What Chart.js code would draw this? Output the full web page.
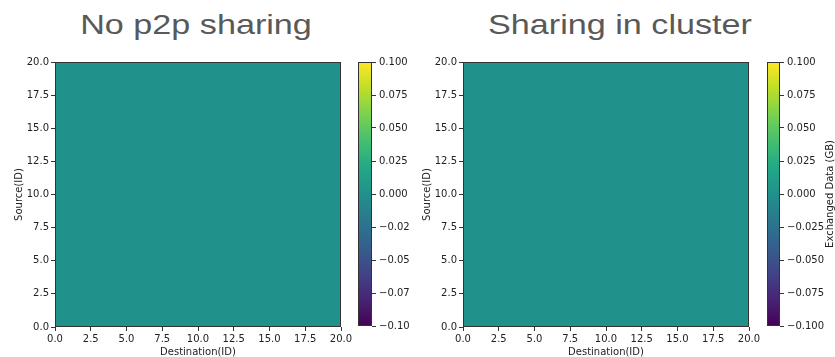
<!DOCTYPE html>
<html>
<head>
<meta charset="utf-8">
<script src="https://cdn.jsdelivr.net/npm/chart.js@4"></script>
<style>
  html, body { margin: 0; padding: 0; background: #fff; width: 835px; height: 357px; overflow: hidden; }
  canvas { position: absolute; }
  .title {
    position: absolute; top: 11px;
    font-family: "Liberation Sans", Arial, sans-serif; font-size: 28px; line-height: 28px;
    color: #595959; white-space: nowrap;
    transform: translateX(-50%) scaleX(1.22); transform-origin: center;
  }
</style>
</head>
<body>
<div class="title" id="t0" style="left:196px"></div>
<div class="title" id="t1" style="left:620px"></div>
<canvas id="heat0" width="365" height="307" style="left:0;top:50px"></canvas>
<canvas id="bar0" width="75" height="307" style="left:350px;top:50px"></canvas>
<canvas id="heat1" width="375" height="307" style="left:400px;top:50px"></canvas>
<canvas id="bar1" width="75" height="307" style="left:760px;top:50px"></canvas>
<script>
// Panel titles and axis labels
const panelTitles = ['No p2p sharing', 'Sharing in cluster'];
const xAxisTitle = 'Destination(ID)';
const yAxisTitle = 'Source(ID)';
const colorbarTitle = 'Exchanged Data (GB)';

// Axis ticks (node IDs)
const idTickValues = [0, 2.5, 5, 7.5, 10, 12.5, 15, 17.5, 20];
const idTickLabels = ['0.0', '2.5', '5.0', '7.5', '10.0', '12.5', '15.0', '17.5', '20.0'];

// Colour scale range and colourbar ticks
const colorRange = [-0.1, 0.1];
const cbTickValues = [-0.1, -0.075, -0.05, -0.025, 0, 0.025, 0.05, 0.075, 0.1];
const cbTickLabelsLeft = ['\u22120.10', '\u22120.07', '\u22120.05', '\u22120.02', '0.000', '0.025', '0.050', '0.075', '0.100'];
const cbTickLabelsRight = ['\u22120.100', '\u22120.075', '\u22120.050', '\u22120.025', '0.000', '0.025', '0.050', '0.075', '0.100'];

// Exchanged data (GB), rows = source ID, columns = destination ID
const noSharing = [
  [0,0,0,0,0,0,0,0,0,0,0,0,0,0,0,0,0,0,0,0],
  [0,0,0,0,0,0,0,0,0,0,0,0,0,0,0,0,0,0,0,0],
  [0,0,0,0,0,0,0,0,0,0,0,0,0,0,0,0,0,0,0,0],
  [0,0,0,0,0,0,0,0,0,0,0,0,0,0,0,0,0,0,0,0],
  [0,0,0,0,0,0,0,0,0,0,0,0,0,0,0,0,0,0,0,0],
  [0,0,0,0,0,0,0,0,0,0,0,0,0,0,0,0,0,0,0,0],
  [0,0,0,0,0,0,0,0,0,0,0,0,0,0,0,0,0,0,0,0],
  [0,0,0,0,0,0,0,0,0,0,0,0,0,0,0,0,0,0,0,0],
  [0,0,0,0,0,0,0,0,0,0,0,0,0,0,0,0,0,0,0,0],
  [0,0,0,0,0,0,0,0,0,0,0,0,0,0,0,0,0,0,0,0],
  [0,0,0,0,0,0,0,0,0,0,0,0,0,0,0,0,0,0,0,0],
  [0,0,0,0,0,0,0,0,0,0,0,0,0,0,0,0,0,0,0,0],
  [0,0,0,0,0,0,0,0,0,0,0,0,0,0,0,0,0,0,0,0],
  [0,0,0,0,0,0,0,0,0,0,0,0,0,0,0,0,0,0,0,0],
  [0,0,0,0,0,0,0,0,0,0,0,0,0,0,0,0,0,0,0,0],
  [0,0,0,0,0,0,0,0,0,0,0,0,0,0,0,0,0,0,0,0],
  [0,0,0,0,0,0,0,0,0,0,0,0,0,0,0,0,0,0,0,0],
  [0,0,0,0,0,0,0,0,0,0,0,0,0,0,0,0,0,0,0,0],
  [0,0,0,0,0,0,0,0,0,0,0,0,0,0,0,0,0,0,0,0],
  [0,0,0,0,0,0,0,0,0,0,0,0,0,0,0,0,0,0,0,0]
];
const clusterSharing = [
  [0,0,0,0,0,0,0,0,0,0,0,0,0,0,0,0,0,0,0,0],
  [0,0,0,0,0,0,0,0,0,0,0,0,0,0,0,0,0,0,0,0],
  [0,0,0,0,0,0,0,0,0,0,0,0,0,0,0,0,0,0,0,0],
  [0,0,0,0,0,0,0,0,0,0,0,0,0,0,0,0,0,0,0,0],
  [0,0,0,0,0,0,0,0,0,0,0,0,0,0,0,0,0,0,0,0],
  [0,0,0,0,0,0,0,0,0,0,0,0,0,0,0,0,0,0,0,0],
  [0,0,0,0,0,0,0,0,0,0,0,0,0,0,0,0,0,0,0,0],
  [0,0,0,0,0,0,0,0,0,0,0,0,0,0,0,0,0,0,0,0],
  [0,0,0,0,0,0,0,0,0,0,0,0,0,0,0,0,0,0,0,0],
  [0,0,0,0,0,0,0,0,0,0,0,0,0,0,0,0,0,0,0,0],
  [0,0,0,0,0,0,0,0,0,0,0,0,0,0,0,0,0,0,0,0],
  [0,0,0,0,0,0,0,0,0,0,0,0,0,0,0,0,0,0,0,0],
  [0,0,0,0,0,0,0,0,0,0,0,0,0,0,0,0,0,0,0,0],
  [0,0,0,0,0,0,0,0,0,0,0,0,0,0,0,0,0,0,0,0],
  [0,0,0,0,0,0,0,0,0,0,0,0,0,0,0,0,0,0,0,0],
  [0,0,0,0,0,0,0,0,0,0,0,0,0,0,0,0,0,0,0,0],
  [0,0,0,0,0,0,0,0,0,0,0,0,0,0,0,0,0,0,0,0],
  [0,0,0,0,0,0,0,0,0,0,0,0,0,0,0,0,0,0,0,0],
  [0,0,0,0,0,0,0,0,0,0,0,0,0,0,0,0,0,0,0,0],
  [0,0,0,0,0,0,0,0,0,0,0,0,0,0,0,0,0,0,0,0]
];

// Viridis colour map stops
const VIRIDIS = ['#440154', '#482475', '#414487', '#355f8d', '#2a788e', '#21918c',
                 '#22a884', '#44bf70', '#7ad151', '#bddf26', '#fde725'];
function hexToRgb(h) { return [1, 3, 5].map(i => parseInt(h.substr(i, 2), 16)); }
function colorFor(v) {
  let t = (v - colorRange[0]) / (colorRange[1] - colorRange[0]);
  t = Math.min(1, Math.max(0, t));
  const p = t * (VIRIDIS.length - 1);
  const i = Math.min(VIRIDIS.length - 2, Math.floor(p));
  const f = p - i;
  const a = hexToRgb(VIRIDIS[i]), b = hexToRgb(VIRIDIS[i + 1]);
  const c = a.map((x, k) => Math.round(x + (b[k] - x) * f));
  return `rgb(${c[0]},${c[1]},${c[2]})`;
}

const TEXT = '#222';
const LINE = '#333';
const FONT = { family: '"DejaVu Sans", sans-serif', size: 10 };

document.getElementById('t0').textContent = panelTitles[0];
document.getElementById('t1').textContent = panelTitles[1];

// Draws one filled cell per matrix entry plus the surrounding frame
const cellPlugin = {
  id: 'cells',
  beforeDatasetsDraw(chart) {
    const { ctx, scales: { x, y } } = chart;
    ctx.save();
    chart.data.datasets[0].data.forEach(p => {
      const l = Math.round(x.getPixelForValue(p.x - 0.5));
      const r = Math.round(x.getPixelForValue(p.x + 0.5));
      const t = Math.round(y.getPixelForValue(p.y + 0.5));
      const b = Math.round(y.getPixelForValue(p.y - 0.5));
      ctx.fillStyle = colorFor(p.v);
      ctx.fillRect(l, t, r - l, b - t);
    });
    ctx.restore();
  },
  afterDraw(chart) {
    const { ctx, chartArea: a } = chart;
    ctx.save();
    ctx.strokeStyle = LINE;
    ctx.lineWidth = 1;
    ctx.strokeRect(Math.round(a.left) + 0.5, Math.round(a.top) + 0.5,
                   Math.round(a.right - a.left) - 1, Math.round(a.bottom - a.top) - 1);
    ctx.restore();
  }
};

function idAxis(title, fit, titlePad) {
  return {
    type: 'linear', min: 0, max: 20,
    afterBuildTicks: s => { s.ticks = idTickValues.map(v => ({ value: v })); },
    afterFit: fit,
    ticks: { callback: (v, i) => idTickLabels[i], font: FONT, color: TEXT, padding: 2,
             autoSkip: false, maxRotation: 0 },
    grid: { drawOnChartArea: false, tickLength: 4, color: LINE },
    border: { display: false },
    title: { display: true, text: title, font: FONT, color: TEXT, padding: titlePad }
  };
}

function heatmap(id, matrix, yWidth, padRight, yTitlePad) {
  const points = [];
  matrix.forEach((row, i) => row.forEach((v, j) => points.push({ x: j + 0.5, y: i + 0.5, v })));
  return new Chart(document.getElementById(id), {
    type: 'scatter',
    data: { datasets: [{ data: points, pointRadius: 0, pointHoverRadius: 0 }] },
    options: {
      responsive: false, animation: false, events: [],
      layout: { padding: { left: 0, right: padRight, top: 12, bottom: 0 } },
      plugins: { legend: { display: false }, tooltip: { enabled: false } },
      scales: {
        x: idAxis(xAxisTitle, s => { s.height = 30; s.paddingLeft = 0; s.paddingRight = 0; },
                  { top: 0, bottom: -1 }),
        y: idAxis(yAxisTitle, s => { s.width = yWidth; s.paddingTop = 0; s.paddingBottom = 0; },
                  { top: yTitlePad, bottom: 0 })
      }
    },
    plugins: [cellPlugin]
  });
}

// Colourbar: gradient over the value range, frame and optional rotated label
const colorbarPlugin = {
  id: 'colorbar',
  beforeDatasetsDraw(chart, args, opts) {
    const { ctx, chartArea: a, scales: { y } } = chart;
    const y0 = y.getPixelForValue(colorRange[0]);
    const y1 = y.getPixelForValue(colorRange[1]);
    const g = ctx.createLinearGradient(0, y0, 0, y1);
    VIRIDIS.forEach((c, i) => g.addColorStop(i / (VIRIDIS.length - 1), c));
    ctx.save();
    ctx.fillStyle = g;
    ctx.fillRect(a.left, y1, a.right - a.left, y0 - y1);
    ctx.strokeStyle = LINE;
    ctx.lineWidth = 1;
    ctx.strokeRect(Math.round(a.left) + 0.5, Math.round(y1) + 0.5,
                   Math.round(a.right - a.left) - 1, Math.round(y0 - y1) - 1);
    if (opts.text) {
      ctx.translate(opts.x, (y0 + y1) / 2);
      ctx.rotate(-Math.PI / 2);
      ctx.fillStyle = TEXT;
      ctx.font = `${FONT.size}px ${FONT.family}`;
      ctx.textAlign = 'center';
      ctx.textBaseline = 'middle';
      ctx.fillText(opts.text, 0, 0);
    }
    ctx.restore();
  }
};

function colorbar(id, labels, padLeft, axisWidth, labelOpts) {
  return new Chart(document.getElementById(id), {
    type: 'scatter',
    data: { datasets: [{ data: colorRange.map(v => ({ x: 0.5, y: v })), pointRadius: 0 }] },
    options: {
      responsive: false, animation: false, events: [],
      layout: { padding: { left: padLeft, right: 0, top: 12, bottom: 31 } },
      plugins: { legend: { display: false }, tooltip: { enabled: false }, colorbar: labelOpts },
      scales: {
        x: { display: false, min: 0, max: 1 },
        y: {
          position: 'right', min: colorRange[0], max: colorRange[1],
          afterBuildTicks: s => { s.ticks = cbTickValues.map(v => ({ value: v })); },
          afterFit: s => { s.width = axisWidth; s.paddingTop = 0; s.paddingBottom = 0; },
          ticks: { callback: (v, i) => labels[i], font: FONT, color: TEXT, padding: 3, autoSkip: false },
          grid: { drawOnChartArea: false, tickLength: 4, color: LINE },
          border: { display: false }
        }
      }
    },
    plugins: [colorbarPlugin]
  });
}

heatmap('heat0', noSharing, 55, 24, 13);
colorbar('bar0', cbTickLabelsLeft, 8, 53, {});
heatmap('heat1', clusterSharing, 63, 26, 21);
colorbar('bar1', cbTickLabelsRight, 7, 55, { text: colorbarTitle, x: 70 });
</script>
</body>
</html>
